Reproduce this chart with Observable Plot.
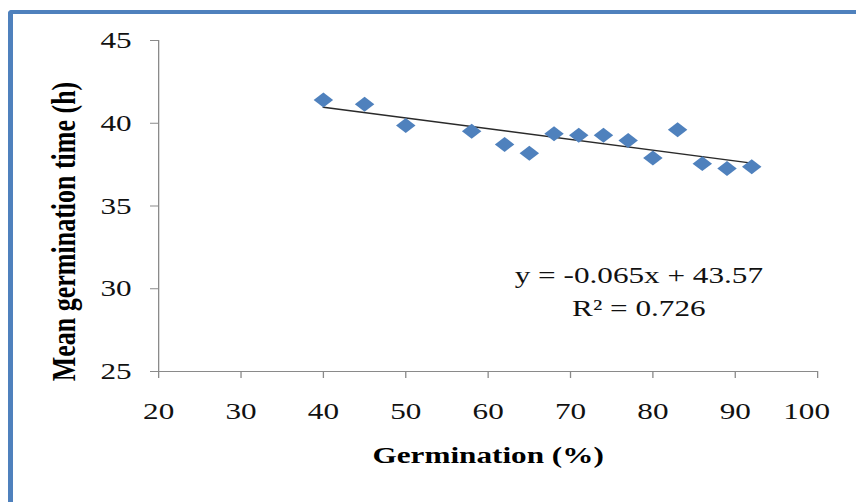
<!DOCTYPE html>
<html>
<head>
<meta charset="utf-8">
<script src="https://cdn.jsdelivr.net/npm/d3@7"></script>
<script src="https://cdn.jsdelivr.net/npm/@observablehq/plot@0.6"></script>
<style>
  html, body { margin: 0; padding: 0; background: #fff; overflow: hidden; width: 856px; height: 502px; }
  #frame { position: absolute; left: 8px; top: 10px; width: 900px; height: 600px;
           border-left: 5px solid #4F81BD; border-top: 4px solid #4F81BD; border-top-left-radius: 4px; box-sizing: border-box; }
  #chart { position: absolute; left: 0; top: 0; transform-origin: 0 0; transform: scaleX(1.3); }
</style>
</head>
<body>
<div id="frame"></div>
<div id="chart"></div>
<script>
// Data
const germination = [40, 45, 50, 58, 62, 65, 68, 71, 74, 77, 80, 83, 86, 89, 92];
const meanTime    = [41.4, 41.15, 39.87, 39.52, 38.72, 38.19, 39.36, 39.27, 39.28, 38.96, 37.9, 39.6, 37.56, 37.26, 37.37];

// Trendline (as printed on the chart)
const slope = -0.065;
const intercept = 43.57;
const equationLines = ["y = -0.065x + 43.57", "R² = 0.726"];
const eqX = 78.3, eqY = 30;

const xTicks = [20, 30, 40, 50, 60, 70, 80, 90, 100];
const xLastTick = [100];
const yTicks = [25, 30, 35, 40, 45];
const xLabel = "Germination (%)";
const yLabel = "Mean germination time (h)";

const points = germination.map((g, i) => ({g, t: meanTime[i]}));
const trendX = [d3.min(germination), d3.max(germination)];

const S = 1.3;
const W = 856 / S;
const axisColor = "#8a8a8a";
const textColor = "#111";
const font = "'Liberation Serif', 'Times New Roman', serif";

const chart = Plot.plot({
  width: W,
  height: 502,
  marginLeft: 158 / S,
  marginRight: W - 817 / S,
  marginTop: 40,
  marginBottom: 131,
  style: {fontFamily: font, fontSize: "24px", background: "transparent", color: textColor},
  x: {domain: [20, 100]},
  y: {domain: [25, 45]},
  marks: [
    Plot.ruleX([20], {stroke: axisColor, strokeWidth: 1}),
    Plot.ruleY([25], {stroke: axisColor, strokeWidth: 1.2}),
    Plot.axisY({ticks: yTicks, tickSize: 8 / S, tickPadding: 14.6, stroke: axisColor, fill: textColor, label: null, fontSize: 24}),
    Plot.axisX({ticks: xTicks, tickSize: 7, tickPadding: 23, stroke: axisColor, fill: textColor, label: null, fontSize: 24,
                tickFormat: d => (xLastTick.includes(d) ? "" : String(d))}),
    Plot.text(xLastTick, {x: d => d, frameAnchor: "bottom", lineAnchor: "top", dy: 30, dx: -8.5, fontSize: 24, fill: textColor}),
    Plot.line(trendX, {x: d => d, y: d => slope * d + intercept, stroke: "#2a2a2a", strokeWidth: 1.4}),
    Plot.dot(points, {x: "g", y: "t", symbol: "diamond2", r: 6.75, fill: "#4F81BD", stroke: "none"}),
    Plot.text([equationLines.join("\n")], {x: () => eqX, y: () => eqY, lineHeight: 1.375, fontSize: 24, fill: textColor, textAnchor: "middle"}),
    Plot.text([xLabel], {frameAnchor: "bottom", dy: 92, fontSize: 24, fontWeight: "bold", fill: "#000"}),
    Plot.text([yLabel], {frameAnchor: "left", textAnchor: "middle", rotate: -90, dx: 63.5 / S - 158 / S, dy: 25.5, fontSize: 26, fontWeight: "bold", fill: "#000"})
  ]
});
document.getElementById("chart").appendChild(chart);
</script>
</body>
</html>
